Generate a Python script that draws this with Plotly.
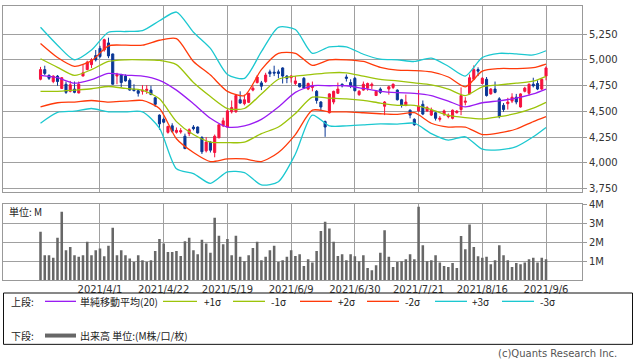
import plotly.graph_objects as go

W, H = 638, 362

def px(x):
    return x / W

def py(y):
    return 1 - y / H

# ---------------- data ----------------
tick_idx = [14, 29, 44, 59, 74, 89, 104, 119]
tick_labels = ["2021/4/1", "2021/4/22", "2021/5/19", "2021/6/9",
               "2021/6/30", "2021/7/21", "2021/8/16", "2021/9/6"]

opens = [4811, 4905, 4849, 4789, 4842, 4722, 4763, 4694, 4716, 4678,
         4842, 4905, 4953, 5041, 5111, 5095, 5164, 5057, 4842, 4858,
         4842, 4801, 4716, 4700, 4694, 4703, 4706, 4631, 4463, 4422,
         4296, 4359, 4296, 4299, 4258, 4283, 4347, 4347, 4246, 4116,
         4201, 4100, 4242, 4359, 4347, 4495, 4495, 4612, 4574, 4587,
         4706, 4779, 4776, 4789, 4883, 4880, 4883, 4921, 4842, 4826,
         4770, 4770, 4820, 4716, 4732, 4694, 4590, 4400, 4486, 4590,
         4675, 4763, 4833, 4779, 4820, 4662, 4706, 4725, 4748, 4653,
         4716, 4549, 4716, 4732, 4706, 4612, 4558, 4511, 4422, 4504,
         4568, 4504, 4463, 4486, 4422, 4473, 4448, 4432, 4486, 4517,
         4587, 4669, 4811, 4905, 4770, 4811, 4669, 4716, 4621, 4558,
         4574, 4599, 4637, 4542, 4694, 4675, 4763, 4770, 4716, 4842]
highs = [4931, 4943, 4858, 4849, 4852, 4833, 4789, 4795, 4789, 4789,
         4953, 4991, 5016, 5095, 5136, 5205, 5215, 5060, 4874, 4864,
         4858, 4820, 4763, 4716, 4754, 4754, 4748, 4637, 4470, 4438,
         4359, 4384, 4343, 4337, 4283, 4334, 4366, 4353, 4258, 4249,
         4208, 4274, 4369, 4438, 4517, 4605, 4669, 4694, 4662, 4678,
         4748, 4852, 4795, 4874, 4905, 4943, 4905, 4927, 4852, 4852,
         4842, 4770, 4833, 4779, 4789, 4706, 4599, 4410, 4675, 4700,
         4779, 4770, 4858, 4811, 4833, 4706, 4789, 4779, 4779, 4706,
         4732, 4599, 4748, 4770, 4713, 4621, 4662, 4517, 4432, 4706,
         4605, 4549, 4536, 4495, 4454, 4517, 4479, 4517, 4511, 4732,
         4637, 4858, 4946, 4927, 4833, 4833, 4725, 4789, 4637, 4580,
         4631, 4675, 4669, 4675, 4738, 4770, 4826, 4801, 4820, 4937]
lows = [4801, 4852, 4804, 4773, 4748, 4716, 4669, 4684, 4675, 4675,
        4842, 4899, 4921, 4984, 5016, 5079, 5016, 4760, 4763, 4732,
        4789, 4700, 4694, 4643, 4662, 4669, 4662, 4542, 4321, 4384,
        4283, 4290, 4283, 4283, 4132, 4258, 4315, 4283, 4085, 4100,
        4100, 4053, 4240, 4347, 4337, 4479, 4486, 4574, 4558, 4580,
        4694, 4770, 4706, 4776, 4833, 4842, 4820, 4770, 4773, 4779,
        4754, 4732, 4716, 4706, 4694, 4574, 4511, 4252, 4479, 4568,
        4669, 4732, 4789, 4725, 4694, 4650, 4700, 4700, 4716, 4650,
        4669, 4463, 4662, 4716, 4605, 4536, 4549, 4432, 4359, 4495,
        4463, 4495, 4454, 4410, 4400, 4454, 4432, 4422, 4479, 4463,
        4558, 4662, 4801, 4842, 4763, 4643, 4662, 4675, 4432, 4495,
        4517, 4580, 4568, 4536, 4684, 4653, 4732, 4706, 4706, 4801]
closes = [4905, 4868, 4820, 4842, 4789, 4826, 4684, 4757, 4684, 4763,
          4874, 4978, 5000, 5000, 5032, 5196, 5038, 4763, 4858, 4779,
          4795, 4706, 4700, 4675, 4706, 4713, 4662, 4568, 4378, 4394,
          4353, 4306, 4315, 4312, 4138, 4321, 4331, 4290, 4107, 4201,
          4122, 4258, 4369, 4407, 4504, 4536, 4653, 4580, 4612, 4675,
          4725, 4833, 4744, 4852, 4864, 4871, 4868, 4842, 4820, 4842,
          4795, 4738, 4725, 4770, 4748, 4605, 4542, 4347, 4669, 4694,
          4716, 4748, 4820, 4748, 4700, 4694, 4763, 4770, 4763, 4694,
          4684, 4590, 4738, 4763, 4612, 4558, 4590, 4463, 4369, 4549,
          4473, 4536, 4511, 4432, 4432, 4504, 4463, 4511, 4501, 4653,
          4599, 4826, 4905, 4890, 4820, 4653, 4716, 4684, 4448, 4517,
          4590, 4637, 4590, 4669, 4725, 4763, 4748, 4716, 4811, 4921]
volume_m = [2.54, 1.32, 1.32, 1.18, 2.23, 3.60, 1.58, 1.75, 1.32, 1.23,
            1.32, 2.02, 1.32, 1.58, 1.67, 1.26, 1.81, 2.75, 1.32, 1.58,
            1.32, 1.14, 0.96, 1.32, 1.05, 0.96, 1.05, 1.53, 2.16, 1.93,
            1.49, 1.49, 1.53, 1.28, 2.05, 2.23, 1.58, 1.37, 2.12, 1.93,
            1.44, 3.28, 2.33, 1.89, 2.16, 1.32, 2.33, 1.23, 1.00, 1.32,
            1.70, 2.02, 1.05, 1.23, 1.58, 1.81, 0.96, 1.05, 1.23, 1.58,
            1.28, 1.37, 0.75, 1.11, 0.93, 1.53, 2.58, 3.07, 2.72, 2.02,
            1.28, 1.37, 1.05, 1.37, 1.26, 1.00, 1.32, 0.65, 0.53, 0.79,
            1.44, 2.63, 1.23, 0.70, 0.96, 1.00, 1.11, 1.37, 1.11, 3.86,
            1.84, 1.00, 1.05, 1.32, 0.93, 0.75, 0.70, 0.91, 0.65, 2.32,
            1.63, 2.93, 1.75, 1.26, 1.18, 1.23, 0.84, 1.05, 1.84, 1.32,
            1.05, 0.70, 0.91, 0.84, 0.93, 1.11, 1.18, 0.93, 1.18, 1.11]

band_idx = [0, 4, 8, 12, 16, 20, 24, 28, 32, 36, 40, 44, 48, 52, 56, 60,
            64, 68, 72, 76, 80, 84, 88, 92, 96, 100, 104, 108, 112, 116, 119]
sigma_p3 = [5316, 5142, 5000, 5095, 5268, 5275, 5284, 5379, 5464, 5268, 5111,
            4858, 4820, 5079, 5316, 5294, 5063, 5126, 5126, 5054, 5006, 5000,
            4984, 5016, 4937, 4842, 5022, 5063, 5057, 5047, 5088]
sigma_p2 = [5158, 5022, 4937, 4991, 5136, 5142, 5142, 5190, 5205, 4984, 4852,
            4694, 4653, 4905, 5063, 5063, 4946, 5000, 5000, 4984, 4927, 4899,
            4896, 4883, 4833, 4738, 4890, 4915, 4915, 4924, 4959]
sigma_p1 = [5010, 4927, 4849, 4905, 4984, 5000, 5000, 4994, 4953, 4779, 4643,
            4527, 4527, 4669, 4811, 4842, 4858, 4874, 4874, 4842, 4811, 4795,
            4776, 4757, 4716, 4653, 4738, 4757, 4773, 4792, 4839]
sma20 = [4849, 4826, 4773, 4808, 4868, 4852, 4842, 4801, 4706, 4574, 4432,
         4347, 4359, 4422, 4542, 4684, 4748, 4748, 4748, 4722, 4694, 4681,
         4675, 4653, 4599, 4542, 4583, 4602, 4628, 4669, 4716]
sigma_m1 = [4694, 4694, 4706, 4719, 4741, 4722, 4706, 4621, 4400, 4274, 4201,
            4195, 4201, 4283, 4347, 4479, 4637, 4628, 4621, 4605, 4580, 4558,
            4558, 4517, 4460, 4438, 4426, 4448, 4479, 4530, 4587]
sigma_m2 = [4542, 4583, 4590, 4605, 4590, 4599, 4605, 4527, 4233, 4100, 4012,
            4037, 4037, 4012, 4100, 4274, 4511, 4495, 4495, 4486, 4476, 4470,
            4486, 4384, 4347, 4347, 4274, 4290, 4328, 4400, 4448]
sigma_m3 = [4384, 4489, 4501, 4527, 4495, 4495, 4495, 4337, 3942, 3895, 3800,
            3911, 3905, 3785, 3816, 4085, 4463, 4359, 4359, 4369, 4378, 4375,
            4384, 4283, 4220, 4252, 4132, 4126, 4157, 4252, 4343]

price_ticks = [3750, 4000, 4250, 4500, 4750, 5000, 5250]
vol_ticks = [1, 2, 3, 4]
vol_tick_text = ["1M", "2M", "3M", "4M"]

# ---------------- styles ----------------
RED = "#f5123e"
BLUE = "#0a3796"
PURPLE = "#9a1cf2"
GREEN = "#9cc40a"
ORANGE = "#ff3a0a"
CYAN = "#1cc8d0"
GRID = "#a0a0a0"
FRAME = "#999999"
TICKFONT = dict(family="DejaVu Sans, Verdana, sans-serif", size=10, color="#333333")
JPFONT = dict(family="Noto Sans CJK JP, sans-serif", size=10, color="#222222")

idx = list(range(len(closes)))

fig = go.Figure()

bands = [
    (sigma_p3, CYAN), (sigma_m3, CYAN),
    (sigma_p2, ORANGE), (sigma_m2, ORANGE),
    (sigma_p1, GREEN), (sigma_m1, GREEN),
    (sma20, PURPLE),
]
for vals, col in bands:
    fig.add_trace(go.Scatter(x=band_idx, y=vals, mode="lines",
                             line=dict(color=col, width=1.3, shape="spline", smoothing=0.7),
                             hoverinfo="skip", showlegend=False,
                             xaxis="x", yaxis="y"))

fig.add_trace(go.Candlestick(
    x=idx, open=opens, high=highs, low=lows, close=closes,
    increasing=dict(line=dict(color=RED, width=1), fillcolor=RED),
    decreasing=dict(line=dict(color=BLUE, width=1), fillcolor=BLUE),
    whiskerwidth=0, hoverinfo="skip", showlegend=False,
    xaxis="x", yaxis="y"))

fig.add_trace(go.Bar(x=idx, y=volume_m, width=0.6, marker_color="#676767",
                     marker_line_width=0, hoverinfo="skip", showlegend=False,
                     xaxis="x2", yaxis="y2"))

xrange = [-8.83, 127.47]
common_x = dict(range=xrange, tickvals=tick_idx, showgrid=True, gridcolor=GRID,
                gridwidth=1, showline=True, mirror=True, linecolor=FRAME,
                linewidth=1, zeroline=False, fixedrange=True)

shapes = []
annotations = []

# legend box
shapes.append(dict(type="rect", xref="paper", yref="paper",
                   x0=px(3.5), x1=px(632.5), y0=py(346), y1=py(293.5),
                   line=dict(color="#111111", width=1)))

legend_row = [
    (45, 76, PURPLE, "単純移動平均(20)", 78),
    (163, 197, GREEN, "+1σ", 202),
    (233, 265, GREEN, "-1σ", 269),
    (300, 332, ORANGE, "+2σ", 336),
    (367, 399, ORANGE, "-2σ", 403),
    (435, 467, CYAN, "+3σ", 470),
    (502, 534, CYAN, "-3σ", 538),
]
ly = 302
annotations.append(dict(text="上段:", x=px(9), y=py(ly), xref="paper", yref="paper",
                        xanchor="left", yanchor="middle", showarrow=False, font=JPFONT))
for x0, x1, col, label, tx in legend_row:
    shapes.append(dict(type="line", xref="paper", yref="paper",
                       x0=px(x0), x1=px(x1), y0=py(ly), y1=py(ly),
                       line=dict(color=col, width=1.3)))
    annotations.append(dict(text=label, x=px(tx), y=py(ly), xref="paper", yref="paper",
                            xanchor="left", yanchor="middle", showarrow=False, font=JPFONT))

ly2 = 337
annotations.append(dict(text="下段:", x=px(9), y=py(ly2), xref="paper", yref="paper",
                        xanchor="left", yanchor="middle", showarrow=False, font=JPFONT))
shapes.append(dict(type="line", xref="paper", yref="paper",
                   x0=px(45), x1=px(76), y0=py(ly2), y1=py(ly2),
                   line=dict(color="#676767", width=4)))
annotations.append(dict(text="出来高 単位:(M株/口/枚)", x=px(78), y=py(ly2),
                        xref="paper", yref="paper", xanchor="left", yanchor="middle",
                        showarrow=False, font=JPFONT))

annotations.append(dict(text="(c)Quants Research Inc.", x=px(619), y=py(355),
                        xref="paper", yref="paper", xanchor="right", yanchor="middle",
                        showarrow=False,
                        font=dict(family="DejaVu Sans, sans-serif", size=10, color="#555555")))
annotations.append(dict(text="単位: M", x=px(7), y=py(210), xref="paper", yref="paper",
                        xanchor="left", yanchor="middle", showarrow=False,
                        font=dict(family="Noto Sans CJK JP, sans-serif", size=10, color="#222222")))

fig.update_layout(
    width=W, height=H,
    margin=dict(l=0, r=0, t=0, b=0),
    paper_bgcolor="white", plot_bgcolor="white",
    showlegend=False,
    xaxis=dict(domain=[px(3), px(582)], anchor="y", showticklabels=False, ticks="",
               rangeslider=dict(visible=False), **common_x),
    yaxis=dict(domain=[py(190), py(0.5)], anchor="x", range=[3718, 5518],
               side="right", tickvals=price_ticks, tickformat=",",
               ticks="outside", ticklen=4, tickcolor=FRAME, tickfont=TICKFONT,
               showgrid=True, gridcolor=GRID, showline=True, mirror=True,
               linecolor=FRAME, linewidth=1, zeroline=False, fixedrange=True),
    xaxis2=dict(domain=[px(3), px(582)], anchor="y2", ticktext=tick_labels,
                showticklabels=True, ticks="", tickfont=TICKFONT,
                rangeslider=dict(visible=False), **common_x),
    yaxis2=dict(domain=[py(280.5), py(202.5)], anchor="x2", range=[0, 4],
                side="right", tickvals=vol_ticks, ticktext=vol_tick_text,
                ticks="outside", ticklen=4, tickcolor=FRAME, tickfont=TICKFONT,
                showgrid=True, gridcolor=GRID, showline=True, mirror=True,
                linecolor=FRAME, linewidth=1, zeroline=False, fixedrange=True),
    shapes=shapes,
    annotations=annotations,
    bargap=0.3,
)

fig.write_html("out.html",
               config={"displayModeBar": False, "staticPlot": True},
               post_script="document.body.style.margin='0px';"
                           "document.body.style.overflow='hidden';")
